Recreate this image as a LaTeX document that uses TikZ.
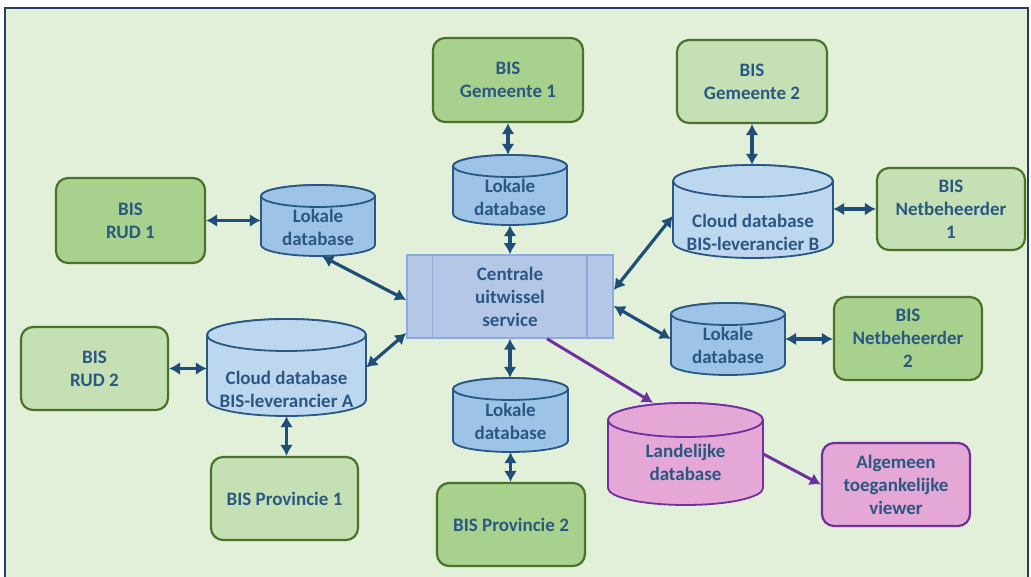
\documentclass[tikz,border=0pt]{standalone}
\usepackage{fontspec}
\setmainfont{Carlito}
\usetikzlibrary{arrows.meta}
\definecolor{bgc}{HTML}{E2EFD9}
\definecolor{framec}{HTML}{243F60}
\definecolor{dgreen}{HTML}{A9D18E}
\definecolor{lgreen}{HTML}{C5E0B4}
\definecolor{gborder}{HTML}{4A7329}
\definecolor{txtc}{HTML}{2B5783}
\definecolor{lokfill}{HTML}{9DC3E6}
\definecolor{cloudfill}{HTML}{BDD7EE}
\definecolor{cylborder}{HTML}{2A5885}
\definecolor{cenfill}{HTML}{B4C7E7}
\definecolor{cenborder}{HTML}{8FAADC}
\definecolor{pinkfill}{HTML}{E5A7D6}
\definecolor{purp}{HTML}{7030A0}
\definecolor{arrc}{HTML}{1F4E79}
\tikzset{
  lbl/.style={text=txtc, font=\bfseries\fontsize{19}{23}\selectfont, align=center, inner sep=0pt},
  gbox/.style={lbl, rounded corners=12pt, draw=gborder, line width=2.2pt},
  dbox/.style={gbox, fill=dgreen},
  lbox/.style={gbox, fill=lgreen},
  pbox/.style={lbl, rounded corners=12pt, draw=purp, line width=2.2pt, fill=pinkfill},
  lokcyl/.style={fill=lokfill, draw=cylborder, line width=1.8pt},
  cloudcyl/.style={fill=cloudfill, draw=cylborder, line width=1.8pt},
  pinkcyl/.style={fill=pinkfill, draw=purp, line width=1.8pt},
  conn/.style={draw=arrc, line width=3.2pt, {Latex[length=11pt,width=13pt]}-{Latex[length=11pt,width=13pt]}},
  pconn/.style={draw=purp, line width=3pt, -{Latex[length=11pt,width=13pt]}},
}
% #1 name, #2 cx, #3 ytop, #4 ybot, #5 rx, #6 ry, #7 style
\newcommand\mycyl[7]{%
  \pgfmathsetmacro\cyA{#3+#6}%
  \pgfmathsetmacro\cyB{#4-#6}%
  \pgfmathsetmacro\cyM{(#3+#4)/2}%
  \pgfmathsetmacro\cyH{#4-#3}%
  \pgfmathsetmacro\cyW{2*#5}%
  \draw[#7] (#2-#5,\cyA) -- (#2-#5,\cyB) arc[start angle=180,end angle=360,x radius=#5pt,y radius=#6pt] -- (#2+#5,\cyA) arc[start angle=0,end angle=180,x radius=#5pt,y radius=#6pt] -- cycle;
  \draw[#7] (#2,\cyA) ellipse[x radius=#5pt,y radius=#6pt];
  \node[inner sep=0pt,minimum width=\cyW pt,minimum height=\cyH pt] (#1) at (#2,\cyM) {};
}
\begin{document}
\begin{tikzpicture}[x=1pt,y=-1pt]
\useasboundingbox (0,0) rectangle (1031,577);
\fill[white] (0,0) rectangle (1031,577);
\fill[bgc] (5,8) rectangle (1028,600);
\draw[framec, line width=2pt] (5,600) -- (5,8) -- (1028,8) -- (1028,600);

% green / pink boxes
\node[dbox, minimum width=150pt, minimum height=84pt] (g1) at (508,80) {BIS\\Gemeente 1};
\node[lbox, minimum width=150pt, minimum height=83pt] (g2) at (752,81.5) {BIS\\Gemeente 2};
\node[lbox, minimum width=148pt, minimum height=82pt] (n1) at (951,209) {BIS\\Netbeheerder\\1};
\node[dbox, minimum width=149pt, minimum height=85pt] (rud1) at (130.5,220.5) {BIS\\RUD 1};
\node[lbox, minimum width=147pt, minimum height=83pt] (rud2) at (94.5,368.5) {BIS\\RUD 2};
\node[dbox, minimum width=148pt, minimum height=83pt] (n2) at (908,338.5) {BIS\\Netbeheerder\\2};
\node[lbox, minimum width=147pt, minimum height=83pt] (p1) at (284.5,498.5) {BIS Provincie 1};
\node[dbox, minimum width=148pt, minimum height=83pt] (p2) at (511,524.5) {BIS Provincie 2};
\node[pbox, minimum width=148pt, minimum height=83pt] (vw) at (896,484.5) {Algemeen\\toegankelijke\\viewer};

% central service
\node[lbl, fill=cenfill, draw=cenborder, line width=1.5pt, minimum width=206pt, minimum height=83pt] (c) at (510,296.5) {Centrale\\uitwissel\\service};
\draw[cenborder, line width=1.5pt] ([xshift=26pt]c.north west) -- ([xshift=26pt]c.south west);
\draw[cenborder, line width=1.5pt] ([xshift=-27pt]c.north east) -- ([xshift=-27pt]c.south east);

% cylinders
\mycyl{lt}{510}{155}{225}{57}{11}{lokcyl}
\node[lbl] (tlt) at (510,197) {Lokale\\database};
\mycyl{ll}{318}{185}{256}{57}{11}{lokcyl}
\node[lbl] (tll) at (318,227) {Lokale\\database};
\mycyl{lr}{728}{303}{375}{57}{11}{lokcyl}
\node[lbl] (tlr) at (728,345) {Lokale\\database};
\mycyl{lb}{510.5}{378}{452}{57.5}{11}{lokcyl}
\node[lbl] (tlb) at (510.5,421) {Lokale\\database};
\mycyl{cb}{753}{165}{258}{80}{16}{cloudcyl}
\node[lbl] (tcb) at (753,232) {Cloud database\\BIS-leverancier B};
\mycyl{ca}{286.5}{319}{416}{79.5}{16}{cloudcyl}
\node[lbl] (tca) at (286.5,389) {Cloud database\\BIS-leverancier A};
\mycyl{ld}{685.5}{403}{505}{77.5}{17}{pinkcyl}
\node[lbl] (tld) at (685.5,462) {Landelijke\\database};

% connectors
\draw[conn] (g1.south) -- (g1.south |- lt.north);
\draw[conn] (lt.south) -- (lt.south |- c.north);
\draw[conn] (g2.south) -- (g2.south |- cb.north);
\draw[conn] ([yshift=-4.5pt]cb.west) -- ([yshift=6.5pt]c.east);
\draw[conn] (cb.east |- n1.west) -- (n1.west);
\draw[conn] ([yshift=-9.5pt]c.east) -- (lr.west);
\draw[conn] (lr.east) -- (lr.east -| n2.west);
\draw[conn] (rud1.east) -- (rud1.east -| ll.west);
\draw[conn] ([xshift=4pt]ll.south) -- ([yshift=-3.5pt]c.west);
\draw[conn] (ca.east) -- ([yshift=-36.5pt]c.west);
\draw[conn] (rud2.east) -- (rud2.east -| ca.west);
\draw[conn] (ca.south) -- (ca.south |- p1.north);
\draw[conn] (c.south) -- (c.south |- lb.north);
\draw[conn] (lb.south) -- (lb.south |- p2.north);
\draw[pconn] ([xshift=37pt]c.south) -- ([xshift=-32.5pt]ld.north);
\draw[pconn] (ld.east) -- (vw.west);
\end{tikzpicture}
\end{document}
